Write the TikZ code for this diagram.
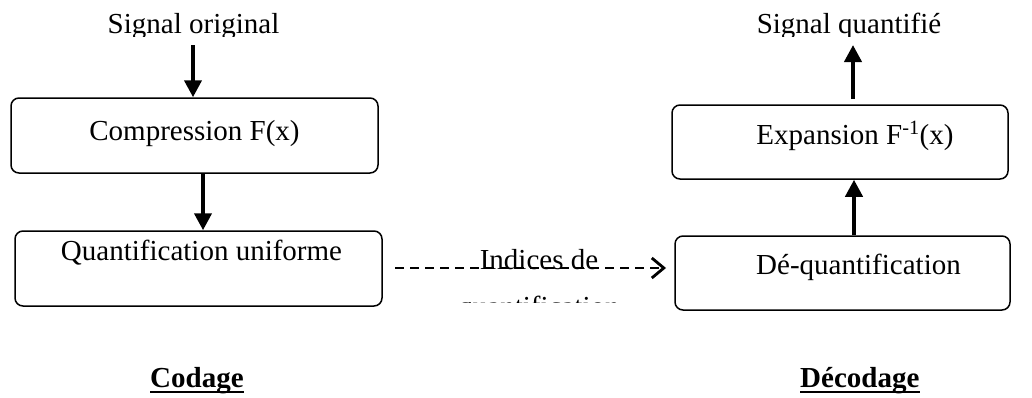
\documentclass[tikz,border=0pt]{standalone}
\usepackage{fontspec}
\setmainfont{Liberation Serif}
\usetikzlibrary{arrows.meta}
\tikzset{
  blk/.style={draw, line width=1.5pt, rounded corners=8pt, inner sep=0pt},
  txt/.style={inner sep=0pt, anchor=base, font=\fontsize{29}{33}\selectfont},
  ttl/.style={inner sep=0pt, anchor=base west, font=\fontsize{29}{33}\selectfont\bfseries},
  flow/.style={line width=4pt, -{Triangle[width=17pt,length=17pt]}},
  idx/.style={line width=2.8pt, dash pattern=on 9pt off 6pt, -{Straight Barb[length=12pt,width=20pt]}},
  uline/.style={line width=2.5pt}
}
\begin{document}
\begin{tikzpicture}[x=1pt,y=-1pt]
\useasboundingbox (0,0) rectangle (1032,397);

% processing blocks
\node[blk, minimum width=367pt, minimum height=75pt] (comp)  at (194.5,135.5) {};
\node[blk, minimum width=367pt, minimum height=75pt] (quant) at (198.5,268.5) {};
\node[blk, minimum width=336pt, minimum height=74pt] (exp)   at (840,142) {};
\node[blk, minimum width=335pt, minimum height=74pt] (deq)   at (842.5,273) {};

\node[txt] (compT)  at (194.5,140) {Compression F(x)};
\node[txt] (quantT) at (201.5,260) {Quantification uniforme};
\node[txt] (expT)   at (855,144)   {Expansion F\textsuperscript{-1}(x)};
\node[txt] (deqT)   at (858.5,274) {Dé-quantification};

% input / output labels (cut at the bottom)
\begin{scope}
  \clip (0,0) rectangle (1032,36);
  \node[txt] (sigin)  at (193.5,33) {Signal original};
  \node[txt] (sigout) at (849,33)   {Signal quantifié};
\end{scope}

% coding chain
\coordinate (in1) at (193,45);
\draw[flow] (in1) -- (in1 |- comp.north);
\coordinate (x2) at (203,0);
\draw[flow] (comp.south -| x2) -- (quant.north -| x2);

% decoding chain
\coordinate (x3) at (854,0);
\draw[flow] (deq.north -| x3) -- (exp.south -| x3);
\coordinate (out0) at (853,99);
\coordinate (out1) at (853,45);
\draw[flow] (out0) -- (out1);

% transmitted indices
\coordinate (d0) at (395,268);
\coordinate (d1) at (666,268);
\draw[idx] (d0) -- (d1);
\node[txt] (indT) at (539,269) {Indices de};
\begin{scope}
  \clip (0,0) rectangle (1032,302);
  \node[txt] (indT2) at (539,316) {quantification};
\end{scope}

% section titles
\node[ttl] (cod) at (150,387) {Codage};
\draw[uline] ([yshift=-5pt]cod.base west) -- ([yshift=-5pt]cod.base east);
\node[ttl] (dec) at (800,387) {Décodage};
\draw[uline] ([yshift=-5pt]dec.base west) -- ([yshift=-5pt]dec.base east);
\end{tikzpicture}
\end{document}
